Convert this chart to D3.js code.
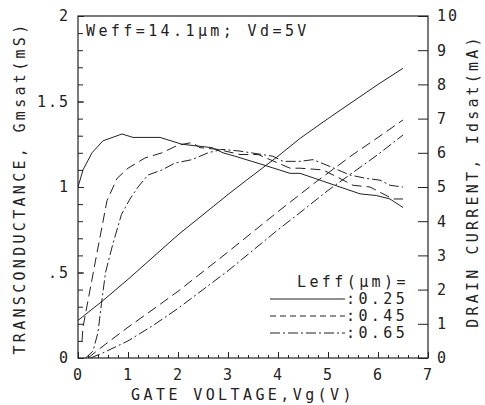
<!DOCTYPE html>
<html>
<head>
<meta charset="utf-8">
<script src="https://cdn.jsdelivr.net/npm/d3@7"></script>
<style>
  body { margin: 0; background: #fff; }
  text { font-family: "DejaVu Sans Mono", monospace; fill: #222; }
</style>
</head>
<body>
<div id="chart"></div>
<script>
// data

// legend entries (Leff, um)
var leff = ["0.25", "0.45", "0.65"];

// transconductance Gmsat (mS) vs Vg (V)
var gm025 = [[0,1.0],[0.1,1.1],[0.28,1.2],[0.5,1.27],[0.88,1.31],[1.1,1.29],[1.64,1.29],[2.08,1.25],
  [2.68,1.23],[2.9,1.2],[3.14,1.18],[3.7,1.13],[4.24,1.08],[4.44,1.08],[4.84,1.04],[5.24,1.0],
  [5.64,0.96],[5.97,0.95],[6.24,0.93],[6.5,0.88]];
var gm045 = [[0.08,0.1],[0.1,0.18],[0.37,0.6],[0.58,0.92],[0.78,1.05],[1.0,1.11],[1.34,1.17],[1.68,1.2],
  [2.0,1.245],[2.28,1.26],[2.44,1.23],[2.8,1.22],[3.24,1.19],[3.6,1.19],[4.24,1.11],[4.44,1.11],
  [4.9,1.1],[5.24,1.05],[5.5,1.01],[5.84,1.0],[6.1,0.96],[6.3,0.93],[6.5,0.93]];
var gm065 = [[0.15,0],[0.3,0.04],[0.4,0.15],[0.47,0.32],[0.55,0.5],[0.7,0.67],[0.87,0.84],[1.04,0.93],
  [1.2,1.0],[1.4,1.07],[1.68,1.1],[1.94,1.14],[2.28,1.16],[2.6,1.2],[2.88,1.22],[3.24,1.21],
  [3.9,1.18],[4.1,1.15],[4.44,1.15],[4.7,1.16],[5.04,1.12],[5.44,1.07],[5.77,1.05],[6.04,1.04],
  [6.24,1.01],[6.5,1.0]];

// drain current Idsat (mA) vs Vg (V)
var id025 = [[0,1.1],[0.5,1.68],[1,2.3],[2,3.6],[3,4.78],[3.37,5.2],[4,5.9],[4.44,6.42],[5,7.0],[6,8.0],[6.5,8.47]];
var id045 = [[0.2,0],[0.44,0.28],[1,0.9],[1.5,1.42],[2,1.95],[3,3.1],[4,4.28],[4.77,5.16],[5.5,5.95],[6,6.45],[6.5,6.96]];
var id065 = [[0.25,0],[0.5,0.15],[1,0.5],[1.5,0.95],[2,1.45],[3,2.55],[4,3.75],[4.44,4.25],[5,4.9],[6,5.95],[6.5,6.52]];

// tick labels
var xTicks = [0,1,2,3,4,5,6,7];
var yTicks = [0,0.5,1,1.5,2];
var yTickLabels = ["0",".5","1","1.5","2"];
var y2Ticks = [0,1,2,3,4,5,6,7,8,9,10];

// set the dimensions and margins of the graph
var margin = {top: 16, right: 57, bottom: 47, left: 78},
    width = 485 - margin.left - margin.right,
    height = 405 - margin.top - margin.bottom;

var svg = d3.select("#chart")
  .append("svg")
    .attr("width", 485)
    .attr("height", 405)
  .append("g")
    .attr("transform", "translate(" + margin.left + "," + margin.top + ")");

var ink = "#222";
var spacing = "3.4px";

var x = d3.scaleLinear().domain([0, 7]).range([0, width]);
var y = d3.scaleLinear().domain([0, 2]).range([height, 0]);
var y2 = d3.scaleLinear().domain([0, 10]).range([height, 0]);

// frame
svg.append("rect")
  .attr("width", width).attr("height", height)
  .attr("fill", "none").attr("stroke", ink).attr("stroke-width", 1.2);

// X axis: minor ticks every 0.2, majors every 1
svg.append("g")
  .attr("transform", "translate(0," + height + ")")
  .call(d3.axisBottom(x).tickValues(d3.range(0, 7.01, 0.2)).tickSize(-3).tickFormat(""));
var gx = svg.append("g")
  .attr("transform", "translate(0," + height + ")")
  .call(d3.axisBottom(x).tickValues(xTicks).tickSize(-6).tickPadding(11).tickFormat(d3.format("d")));

// left Y axis
svg.append("g")
  .call(d3.axisLeft(y).tickValues(d3.range(0, 2.01, 0.1)).tickSize(-5).tickFormat(""));
var gy = svg.append("g")
  .call(d3.axisLeft(y).tickValues(yTicks).tickSize(-6).tickPadding(8)
    .tickFormat(function(d, i) { return yTickLabels[i]; }));

// right Y axis
var gy2 = svg.append("g")
  .attr("transform", "translate(" + width + ",0)")
  .call(d3.axisRight(y2).tickValues(y2Ticks).tickSize(-10).tickPadding(9).tickFormat(d3.format("d")));

[gx, gy, gy2].forEach(function(g) {
  g.selectAll("text")
    .style("font-family", "DejaVu Sans Mono, monospace")
    .style("font-size", "15px")
    .style("letter-spacing", "2px")
    .attr("fill", ink);
});
svg.selectAll(".domain").remove();
svg.selectAll(".tick line").attr("stroke", ink);

// line styles per Leff
var dashes = ["none", "10,5", "10,3,2,3"];

var line1 = d3.line()
  .x(function(d) { return x(d[0]); })
  .y(function(d) { return y(d[1]); });
var line2 = d3.line()
  .x(function(d) { return x(d[0]); })
  .y(function(d) { return y2(d[1]); });

[gm025, gm045, gm065].forEach(function(s, i) {
  svg.append("path").datum(s)
    .attr("d", line1)
    .attr("fill", "none").attr("stroke", ink).attr("stroke-width", 1)
    .attr("stroke-dasharray", dashes[i]);
});
[id025, id045, id065].forEach(function(s, i) {
  svg.append("path").datum(s)
    .attr("d", line2)
    .attr("fill", "none").attr("stroke", ink).attr("stroke-width", 1)
    .attr("stroke-dasharray", dashes[i]);
});

// text inside the plot
svg.append("text")
  .attr("x", 8).attr("y", 20)
  .style("font-size", "15px").style("letter-spacing", spacing)
  .text("Weff=14.1μm; Vd=5V");

// legend
var legend = svg.append("g");
legend.append("text")
  .attr("x", 219).attr("y", 271)
  .style("font-size", "15px").style("letter-spacing", spacing)
  .text("Leff(μm)=");
var legendDash = ["none", "6,4", "10,3,2,3"];
leff.forEach(function(d, i) {
  var ly = 283 + i * 17;
  legend.append("line")
    .attr("x1", 192).attr("x2", 267)
    .attr("y1", ly).attr("y2", ly)
    .attr("stroke", ink).attr("stroke-width", 1)
    .attr("stroke-dasharray", legendDash[i]);
  legend.append("text")
    .attr("x", 268).attr("y", ly + 5)
    .style("font-size", "15px").style("letter-spacing", spacing)
    .text(":" + d);
});

// axis titles
svg.append("text")
  .attr("x", width / 2 - 10).attr("y", height + 42)
  .attr("text-anchor", "middle")
  .style("font-size", "15px").style("letter-spacing", spacing)
  .text("GATE VOLTAGE,Vg(V)");

svg.append("text")
  .attr("transform", "translate(-53," + (height / 2 + 1) + ") rotate(-90)")
  .attr("text-anchor", "middle")
  .style("font-size", "15px").style("letter-spacing", "3.3px")
  .text("TRANSCONDUCTANCE, Gmsat(mS)");

svg.append("text")
  .attr("transform", "translate(" + (width + 50) + "," + (height / 2 - 6) + ") rotate(-90)")
  .attr("text-anchor", "middle")
  .style("font-size", "15px").style("letter-spacing", "3.2px")
  .text("DRAIN CURRENT, Idsat(mA)");
</script>
</body>
</html>
